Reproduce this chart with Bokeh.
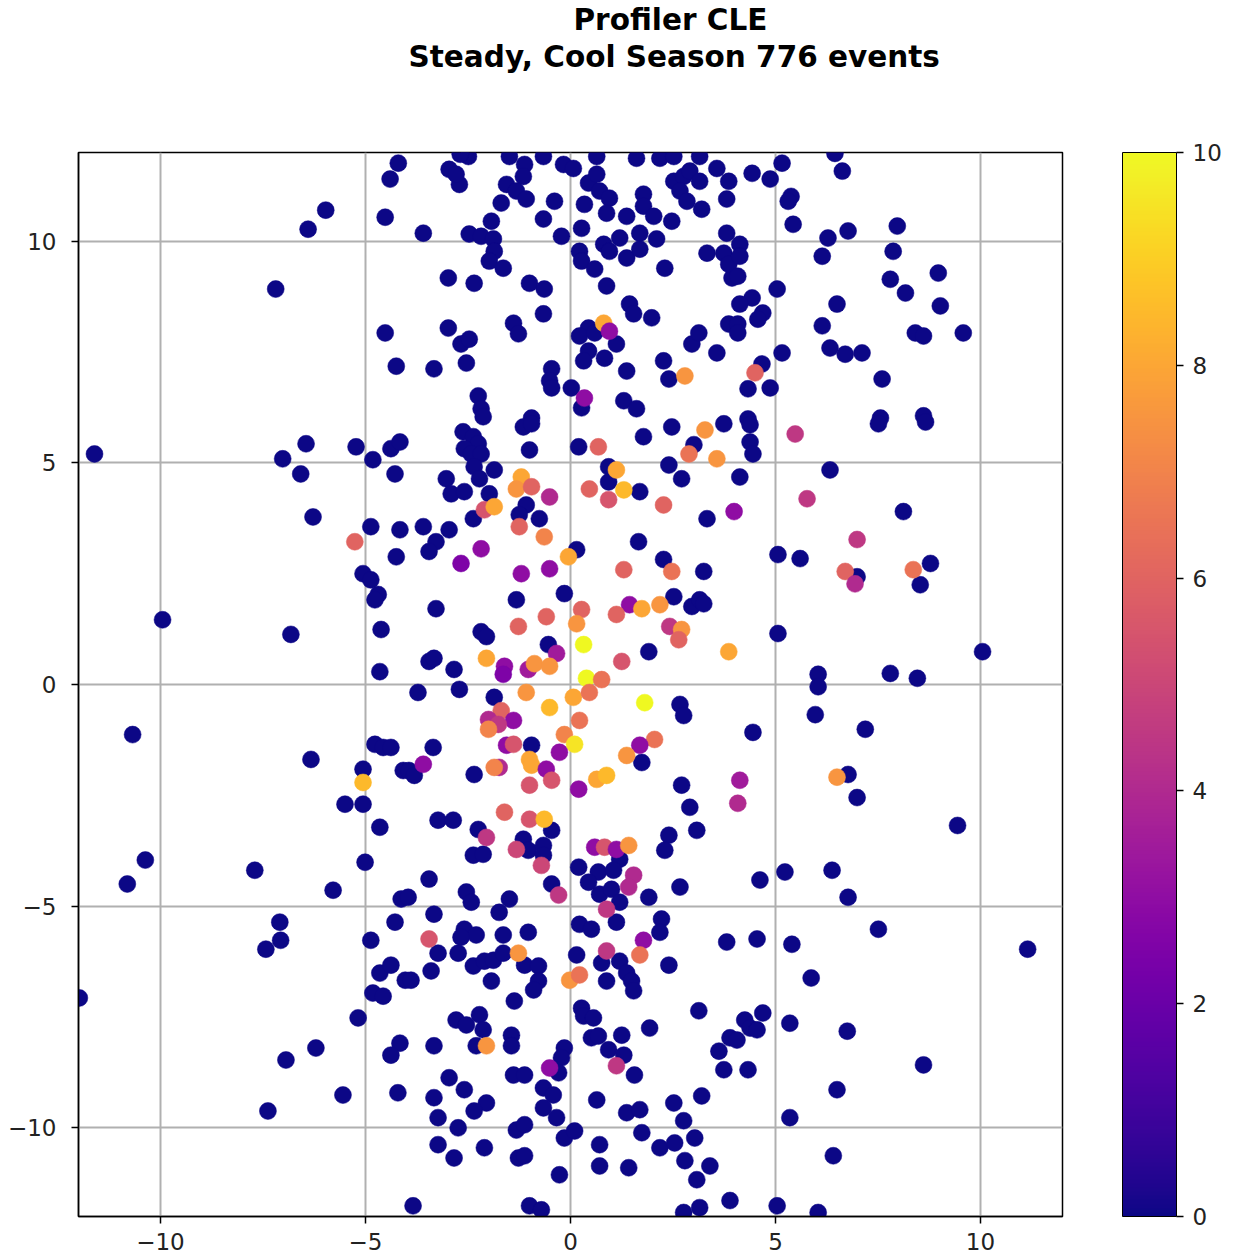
from bokeh.plotting import figure
from bokeh.models import (LinearColorMapper, ColorBar, FixedTicker, Title, Range1d,
                          ColumnDataSource)
from bokeh.palettes import Plasma256
from bokeh.transform import transform
from bokeh.embed import file_html
from bokeh.resources import INLINE

title_line1 = "Profiler CLE"
title_line2 = "Steady, Cool Season 776 events"
axis_ticks = [-10, -5, 0, 5, 10]
cbar_ticks = [0, 2, 4, 6, 8, 10]

# points with value 0 (dark blue)
blue_x = [
    -4.2, -4.4, -4.52, -5.97, -6.4, -7.19, -4.52, -4.25,
    -2.96, -2.71, -2.79, -2.49, -2.69, -1.49, -1.12, -1.15, -1.56, -1.32,
    -1.08, -1.69, -0.39, -0.66, -1.93, -3.59, -2.47, -2.18, -1.88, -1.86,
    -1.98, -1.64, -0.17, 0.07, -0.66, -0.22, 0.27, 0.22, 0.27, 0.59,
    0.44, 0.64, 0.71, 0.95, 0.34, 0.88, 0.64, 1.37, 1.61, 1.78,
    1.78, 2.03, 2.47, 2.18, 2.52, 2.76, 2.91, 3.15, 2.67, 2.84,
    3.20, 3.57, 3.81, 3.86, 3.15, 2.52, 0.81, 0.95, 1.20, 1.37,
    1.69, 1.69, 2.10, 2.30, 3.33, 3.74, 3.81, 3.94, -2.98, -2.35,
    -1.00, -0.64, 0.88, -0.66, -2.98, -1.39, -1.27, -2.67, -2.47, -2.54,
    -3.33, -0.46, -0.51, -0.46, -2.25, -2.18, 0.02, 0.27, 0.44, 0.22,
    0.59, 1.12, 0.44, 0.32, 0.83, 1.37, 1.44, 1.54, 1.98, 2.27,
    2.40, 2.96, 3.13, 3.57, 3.86, 1.30, 1.61, 3.86, -0.95,
    4.43, 4.87, 5.16, 6.45, 6.63, 5.38, 5.31, 5.43, 6.28, 6.77,
    7.97, 7.87, 6.14, 4.13, 4.13, 4.08, 5.04, 4.43, 4.13, 4.69,
    4.57, 4.08, 4.08, 6.50, 6.14, 7.80, 8.17, 8.97, 9.02, 8.41,
    8.61, 9.58, 5.16, 6.33, 6.70, 7.11, 7.60, 4.67, 4.33, 4.87,
    4.33, 7.56, 8.61,
    -11.61, -7.02, -6.45, -6.58, -6.28, -5.23, -4.82, -4.38, -4.16, -4.28,
    -4.87, -4.16, -4.25, -5.06, -4.87, -4.69, -4.77, -9.95, -6.82, -4.62,
    -4.65,
    -2.62, -2.37, -2.25, -2.59, -2.42, -2.18, -2.13, -1.15, -0.95, -1.00,
    -2.35, -1.86, -2.22, -3.03, -2.91, -2.59, -1.98, -2.37, -1.08, -1.25,
    -0.76, -3.59, -2.96, -3.28, -3.45, 0.15, -0.15, -1.32, -3.28, -2.18,
    -2.05, -0.54, -3.45, -3.33, -2.84, 0.20, 0.93, 0.93, 1.69, 1.78,
    2.47, 3.74, 3.01, 2.40, 2.71, 3.33, 1.66, 2.27, 3.25, 2.52,
    2.96, 3.15, 3.25, 1.91,
    4.38, 4.38, 4.45, 7.51, 8.66, 4.13, 6.33, 8.12, 5.06, 5.60,
    6.99, 8.78, 8.53, 5.06, 10.05, 6.04, 7.80, 8.46,
    -10.68, -6.33, -4.77, -4.57, -4.38, -5.06, -4.08, -5.50, -5.06, -4.65,
    -10.37, -10.81, -7.70, -5.01, -5.79, -4.13, -7.09, -7.07, -7.43, -4.28,
    -4.87,
    -3.72, -2.71, -1.86, -0.95, -3.35, -3.94, -3.81, -2.35, 2.67, 2.76,
    1.74, 2.71, 2.91, 3.08, -3.23, -2.86, -2.25, -0.46, -1.15, -1.03,
    -0.66, -0.66, -2.37, -2.13, 2.40, 2.30, 1.20, 0.20, 0.68, 1.05,
    0.44, 0.71, 1.00, 1.20, 1.91, 2.67, -3.45, -2.54, -2.42, -1.49,
    -0.46, -3.96, -3.33, -1.74, -2.59, -2.30, -2.67, -1.64, -1.03, 0.22,
    0.51, 1.12, 2.22, 2.18, 3.81,
    6.04, 5.97, 7.19, 4.45, 6.77, 6.99, 9.44, 4.62, 5.23, 6.38,
    6.77, 7.51, 4.55, 5.40, 11.15,
    -11.98, -4.65, -4.38, -4.03, -4.82, -4.57, -5.18, -6.21, -6.94, -4.16,
    -4.38, -5.55, -4.21, -7.38, -3.84,
    -3.23, -2.74, -2.37, -2.10, -1.88, -1.64, -3.40, -3.89, -1.93, -1.12,
    -0.78, -0.78, -0.90, -1.37, 0.15, 0.76, 0.88, 1.20, 1.37, 1.49,
    1.54, 2.40, -2.79, -2.54, -2.22, -2.13, -2.30, -3.33, -1.44, -1.44,
    0.27, 0.32, 0.56, 0.51, 0.68, 0.93, 1.25, 1.30, 1.56, 1.93,
    3.13, 3.89, 3.62, 3.74, -0.15, -0.22, -0.29, -1.39, -1.12, -2.96,
    -2.59, -3.33, -2.05, -2.35, -3.23, -2.74, -0.66, -0.42, -0.66, -0.34,
    0.64, 1.37, 1.69, 2.52, 3.20, 2.76, -1.32, -1.12, -0.15, 0.10,
    1.74, 0.71, 2.18, 2.54, 3.03, -3.23, -2.10, -2.84, -1.27, -1.12,
    0.71, 1.42, 2.79, 3.40, 3.08, -0.27, -1.00, -0.71, 2.76, 3.15,
    3.89,
    5.87, 4.69, 4.25, 4.38, 4.55, 4.06, 5.35, 6.75, 8.61, 4.33,
    6.50, 5.35, 6.41, 5.04, 6.04,
]
blue_y = [
    11.76, 11.4, 10.54, 10.7, 10.27, 8.92, 7.93, 7.18,
    11.62, 11.28, 11.51, 11.91, 11.96, 11.91, 11.73, 11.46, 11.28, 11.13,
    10.95, 10.86, 10.90, 10.50, 10.45, 10.18, 10.16, 10.11, 10.05, 9.77,
    9.55, 9.39, 11.73, 11.64, 11.91, 10.11, 10.29, 9.77, 9.55, 9.37,
    11.31, 11.51, 11.13, 10.97, 10.83, 10.63, 11.91, 10.56, 11.87, 11.06,
    10.79, 10.56, 10.45, 11.87, 11.35, 11.46, 11.58, 11.35, 11.13, 10.90,
    10.72, 11.64, 10.95, 11.35, 11.91, 11.91, 9.93, 9.77, 10.07, 9.62,
    10.18, 9.82, 10.05, 9.39, 9.73, 9.73, 10.18, 9.17, 9.17, 9.05,
    9.05, 8.92, 8.99, 8.36, 8.04, 8.15, 7.91, 7.68, 7.79, 7.25,
    7.12, 7.12, 6.85, 6.69, 6.51, 6.22, 6.69, 6.24, 8.04, 7.86,
    7.93, 7.68, 7.52, 7.30, 7.36, 7.07, 8.58, 8.36, 8.27, 7.30,
    6.89, 7.68, 7.93, 7.48, 8.13, 6.40, 6.22, 9.48, 6.01,
    11.53, 11.40, 11.76, 11.98, 11.58, 11.01, 10.90, 10.38, 10.07, 10.23,
    10.34, 9.77, 9.66, 9.93, 9.66, 9.21, 8.92, 8.72, 8.58, 8.38,
    8.24, 8.13, 7.93, 8.58, 8.09, 9.14, 8.83, 9.28, 8.54, 7.93,
    7.86, 7.93, 7.48, 7.59, 7.45, 7.48, 6.89, 7.23, 6.67, 6.69,
    5.99, 6.01, 6.06,
    5.20, 5.09, 5.43, 4.75, 3.78, 5.36, 5.07, 5.32, 5.47, 4.75,
    3.56, 3.49, 2.88, 2.50, 2.36, 2.03, 1.91, 1.46, 1.13, 1.24,
    0.29,
    5.70, 5.59, 5.43, 5.32, 5.20, 5.20, 6.04, 5.81, 5.88, 5.29,
    4.91, 4.84, 4.64, 4.64, 4.30, 4.35, 4.30, 3.74, 4.05, 3.83,
    3.74, 3.56, 3.49, 3.22, 3.00, 3.04, 2.05, 1.91, 1.71, 1.19,
    1.08, 0.90, 0.52, 0.59, 0.34, 5.36, 4.91, 4.57, 4.35, 5.59,
    5.81, 5.88, 5.41, 4.95, 4.64, 3.74, 3.22, 2.82, 2.55, 1.98,
    1.76, 1.91, 1.82, 0.74,
    5.86, 5.47, 5.20, 5.88, 5.92, 4.68, 4.84, 3.90, 2.93, 2.84,
    2.43, 2.73, 2.25, 1.15, 0.74, 0.23, 0.25, 0.14,
    -1.13, -1.69, -1.35, -1.42, -1.42, -1.91, -1.94, -2.70, -2.70, -3.22,
    -3.96, -4.50, -4.19, -4.01, -4.64, -4.84, -5.36, -5.77, -5.97, -5.36,
    -5.77,
    -0.18, -0.11, -0.29, -1.37, -1.42, -1.94, -2.05, -2.03, -0.45, -0.70,
    -1.76, -2.27, -2.77, -3.29, -3.06, -3.06, -3.27, -3.29, -3.49, -3.74,
    -3.63, -3.85, -3.85, -3.83, -3.40, -3.74, -3.94, -4.12, -4.23, -4.19,
    -4.46, -4.73, -4.62, -4.91, -4.80, -4.57, -4.39, -4.68, -4.91, -4.84,
    -4.50, -4.80, -5.18, -5.14, -5.52, -5.65, -5.70, -5.65, -5.59, -5.41,
    -5.52, -5.36, -5.29, -5.59, -5.81,
    -0.05, -0.68, -1.01, -1.08, -2.03, -2.55, -3.18, -4.41, -4.23, -4.19,
    -4.80, -5.52, -5.74, -5.86, -5.97,
    -7.07, -6.51, -6.33, -6.67, -6.96, -7.03, -7.52, -8.20, -8.47, -8.09,
    -8.36, -9.26, -9.21, -9.62, -11.76,
    -6.06, -6.06, -6.35, -6.24, -6.22, -6.06, -6.46, -6.67, -6.69, -6.33,
    -6.35, -6.69, -6.89, -7.14, -6.10, -6.28, -6.69, -6.24, -6.51, -6.69,
    -6.91, -6.33, -7.57, -7.68, -7.45, -7.79, -8.15, -8.15, -7.91, -8.15,
    -7.30, -7.48, -7.52, -7.97, -7.93, -8.24, -7.91, -8.36, -8.81, -7.75,
    -7.36, -7.97, -8.27, -8.69, -8.20, -8.42, -8.76, -8.81, -8.81, -8.87,
    -9.14, -9.32, -9.44, -9.62, -9.77, -10.00, -9.10, -9.26, -9.55, -9.77,
    -9.37, -9.66, -9.59, -9.44, -9.28, -9.84, -10.05, -9.93, -10.23, -10.07,
    -10.11, -10.38, -10.45, -10.34, -10.23, -10.38, -10.45, -10.68, -10.68, -10.63,
    -10.86, -10.90, -10.74, -10.86, -11.17, -11.06, -11.76, -11.85, -11.91, -11.80,
    -11.64,
    -6.62, -7.41, -7.57, -7.75, -7.79, -8.02, -7.64, -7.82, -8.58, -8.69,
    -9.14, -9.77, -10.63, -11.76, -11.91,
]
blue_v = [0.0] * len(blue_x)

# coloured points (value > 0)
col_x = [
    0.34, 0.81, 0.95, 2.79, 4.50, -5.26,
    -2.10, -1.86, -1.20, -1.32, -0.95, -0.51, -1.25, -0.64, -2.18, -2.67,
    -1.20, -0.51, -0.05, -0.59, -1.27, -0.34, -2.05, -1.61, -1.64, -1.03,
    -0.88, -0.51, 0.68, 1.12, 0.46, 0.93, 1.30, 3.28, 2.89, 3.57,
    2.27, 3.99, 2.47, 1.30, 1.44, 1.74, 2.18, 1.12, 0.27, 0.15,
    2.42, 2.71, 2.64, 0.32, 1.25, 3.86, 0.39, 0.76,
    5.48, 5.77, 6.99, 6.70, 6.94, 8.36,
    -5.06,
    -1.08, -0.51, 0.07, 0.46, -1.69, -2.00, -1.39, -1.76, -2.00, 0.22,
    -0.15, 0.10, -0.27, -1.56, -1.39, -3.59, -1.74, -1.86, -1.00, -0.95,
    -0.59, -0.46, -1.00, 0.20, 0.64, 0.88, 1.81, 2.05, 1.69, 1.37,
    4.13, 4.08, -1.61, -1.00, -0.64, -2.05, -1.32, -0.71, 0.59, 0.83,
    1.12, 1.42, 1.54, 1.42, 0.88, -0.29, -3.45, 1.78,
    6.50,
    -1.27, -0.02, 0.22, 0.88, 1.69, -2.05, 1.12, -0.51,
]
col_y = [
    6.46, 8.15, 7.97, 6.96, 7.03, 3.22,
    3.94, 4.01, 4.68, 4.41, 4.46, 4.23, 3.56, 3.33, 3.06, 2.73,
    2.50, 2.61, 2.88, 1.53, 1.31, 0.70, 0.59, 0.41, 0.23, 0.34,
    0.47, 0.41, 5.36, 4.84, 4.41, 4.17, 4.39, 5.74, 5.20, 5.09,
    4.05, 3.90, 2.55, 2.59, 1.80, 1.71, 1.80, 1.58, 1.69, 1.37,
    1.31, 1.24, 1.01, 0.90, 0.52, 0.74, 0.14, 0.11,
    5.65, 4.19, 3.27, 2.55, 2.27, 2.59,
    -2.21,
    -0.18, -0.52, -0.29, -0.18, -0.59, -0.79, -0.81, -0.90, -1.01, -0.81,
    -1.13, -1.35, -1.53, -1.37, -1.35, -1.80, -1.87, -1.87, -1.69, -1.82,
    -1.91, -2.16, -2.27, -2.36, -2.14, -2.05, -0.41, -1.24, -1.37, -1.60,
    -2.16, -2.68, -2.88, -3.04, -3.04, -3.45, -3.72, -4.08, -3.67, -3.67,
    -3.72, -3.63, -4.30, -4.57, -5.07, -4.75, -5.74, -5.77,
    -2.09,
    -6.06, -6.67, -6.55, -6.01, -6.10, -8.15, -8.60, -8.65,
]
col_v = [
    3, 8, 3, 7.5, 6, 6,
    5.5, 8, 8, 7.5, 6, 4, 6, 7, 3, 2.5,
    3, 3, 8, 6, 6, 3.5, 8, 3, 2.5, 3.5,
    7.5, 7.5, 6, 8, 6, 5.5, 8.5, 7.5, 6.5, 7.5,
    6, 3, 6.5, 6, 3, 8, 7.5, 6, 6, 7.5,
    4.5, 7.5, 6, 10, 5.5, 8, 10, 6.5,
    4.5, 4.5, 4.5, 6, 4, 6.5,
    8.5,
    7.5, 8.5, 8, 6.5, 6, 4, 3, 4.5, 7, 6.5,
    7, 9.5, 3, 3, 5.5, 3, 4, 7, 8, 8,
    3, 5.5, 5.5, 3, 8, 8.5, 10, 6.5, 3, 7.5,
    3.5, 4, 6, 5.5, 8.5, 4.5, 5, 5, 3, 5.5,
    3, 7.5, 4, 4, 4.5, 4.5, 5.5, 3,
    7.5,
    7.5, 7.5, 6.5, 4.5, 6.5, 7.5, 4.5, 3,
]

mapper = LinearColorMapper(palette=Plasma256, low=0, high=10)

p = figure(width=1233, height=1258, x_range=Range1d(-12, 12), y_range=Range1d(-12, 12),
           output_backend="svg", toolbar_location=None,
           min_border_left=78, min_border_right=171, min_border_top=10, min_border_bottom=42)
p.background_fill_color = "white"
p.border_fill_color = "white"
p.outline_line_color = "black"
p.outline_line_width = 1.5

for ax in (p.xaxis[0], p.yaxis[0]):
    ax.ticker = FixedTicker(ticks=axis_ticks)
    ax.major_label_overrides = {-10: "\u221210", -5: "\u22125", 0: "0", 5: "5", 10: "10"}
    ax.major_label_text_font = "DejaVu Sans"
    ax.major_label_text_font_size = "23px"
    ax.major_label_text_color = "#222222"
    ax.major_tick_in = 0
    ax.major_tick_out = 7
    ax.major_tick_line_color = "black"
    ax.major_tick_line_width = 1.5
    ax.minor_tick_line_color = None
    ax.axis_line_color = "black"
    ax.axis_line_width = 1.5
p.xaxis[0].major_label_standoff = 9
p.yaxis[0].major_label_standoff = 15

p.grid.ticker = FixedTicker(ticks=axis_ticks)
p.grid.grid_line_color = "#b0b0b0"
p.grid.grid_line_width = 2

src_b = ColumnDataSource(dict(x=blue_x, y=blue_y, v=blue_v))
src_c = ColumnDataSource(dict(x=col_x, y=col_y, v=col_v))
p.scatter("x", "y", source=src_b, size=17, fill_color=transform("v", mapper),
          line_color=transform("v", mapper), line_width=0.5)
p.scatter("x", "y", source=src_c, size=17, fill_color=transform("v", mapper),
          line_color=transform("v", mapper), line_width=0.5)

cb = ColorBar(color_mapper=mapper, ticker=FixedTicker(ticks=cbar_ticks),
              width=54, height=1064, location=(60, 0), padding=0, margin=0,
              major_label_text_font="DejaVu Sans", major_label_text_font_size="23px",
              major_label_text_color="#222222",
              major_tick_in=0, major_tick_out=7, major_tick_line_color="black",
              major_tick_line_width=1.5, minor_tick_line_color=None,
              bar_line_color="black", bar_line_width=1.0,
              label_standoff=9, background_fill_alpha=0, border_line_color=None)
p.add_layout(cb, "right")

# title panels: the first one added sits closest to the frame
title_style = dict(text_font="DejaVu Sans", text_font_style="bold",
                   text_font_size="29.5px", text_color="black")
p.add_layout(Title(text=" ", align="left", offset=0, standoff=42, **title_style), "above")
p.add_layout(Title(text=title_line2, align="left", offset=330, standoff=2, **title_style), "above")
p.add_layout(Title(text=title_line1, align="left", offset=495, standoff=0, **title_style), "above")

open("out.html", "w").write(file_html(p, INLINE))
